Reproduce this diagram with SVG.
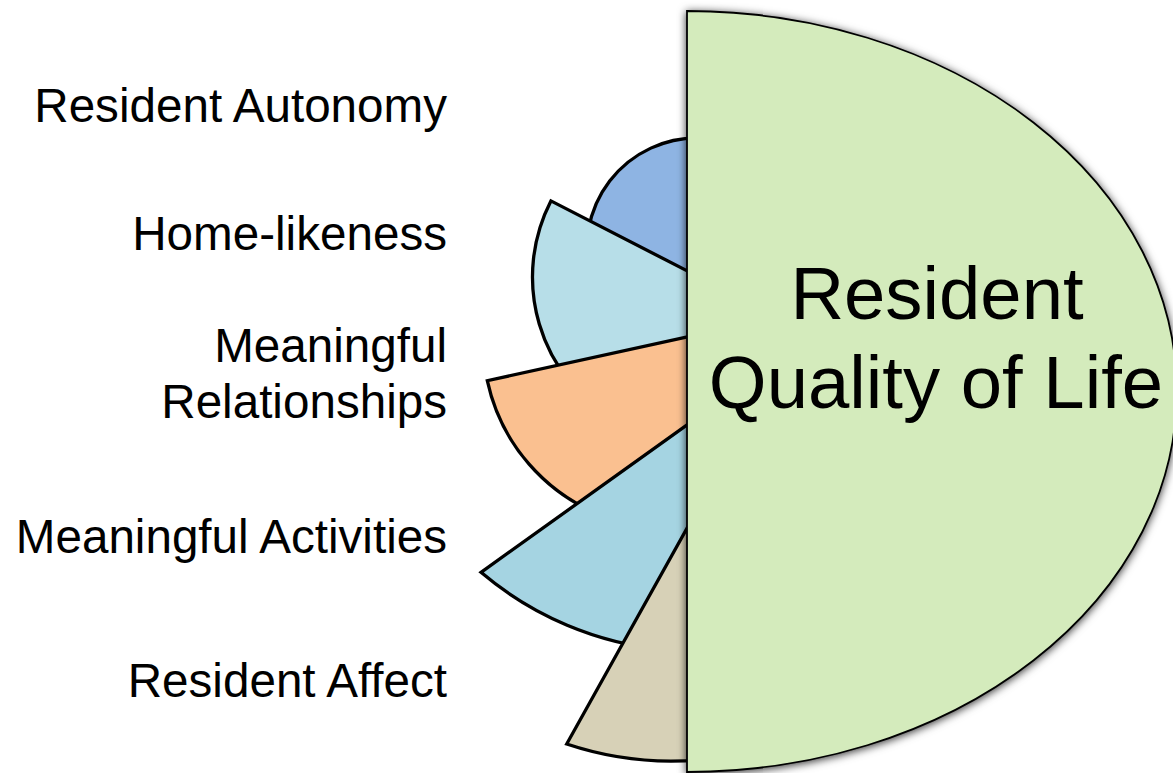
<svg xmlns="http://www.w3.org/2000/svg" width="1173" height="773" viewBox="0 0 1173 773">
  <style>
    .petal { stroke: #000; stroke-width: 3.3; stroke-linejoin: miter; }
    .lbl { font-family: "Liberation Sans", Arial, sans-serif; font-size: 47.6px; fill: #000; text-anchor: end; }
    .big { font-family: "Liberation Sans", Arial, sans-serif; font-size: 74.3px; fill: #000; text-anchor: middle; }
  </style>
  <defs>
    <filter id="sh" x="-10%" y="-10%" width="125%" height="125%">
      <feDropShadow dx="0" dy="1.5" stdDeviation="4.5" flood-color="#000" flood-opacity="0.8"/>
    </filter>
  </defs>
  <rect width="1173" height="773" fill="#fff"/>

  <g id="resident-autonomy">
    <path class="petal" fill="#8EB4E3" d="M 712,138 L 697,138 A 110 110 0 0 0 590.7,276.5 L 700,300 Z"/>
    <text class="lbl" x="447" y="121.7">Resident Autonomy</text>
  </g>

  <g id="home-likeness">
    <path class="petal" fill="#B7DEE8" d="M 710.6,282.9 L 550.9,200.9 A 166.5 166.5 0 0 0 615.75,421.2 L 700,360 Z"/>
    <text class="lbl" x="447" y="250">Home-likeness</text>
  </g>

  <g id="meaningful-relationships">
    <path class="petal" fill="#FAC090" d="M 700,334.2 L 487.3,380.7 A 187 187 0 0 0 606,517 L 700,470 Z"/>
    <text class="lbl" x="447" y="361.7">Meaningful</text>
    <text class="lbl" x="447" y="418.3">Relationships</text>
  </g>

  <g id="meaningful-activities">
    <path class="petal" fill="#A5D4E2" d="M 700,415.7 L 481,572.3 A 333 333 0 0 0 665.2,649.8 L 700,600 Z"/>
    <text class="lbl" x="447" y="553.3">Meaningful Activities</text>
  </g>

  <g id="resident-affect">
    <path class="petal" fill="#D7D1B7" d="M 700,504.9 L 566.7,744 A 330 330 0 0 0 700,759.8 L 720,759.8 L 720,504.9 Z"/>
    <text class="lbl" x="447" y="696.7">Resident Affect</text>
  </g>

  <g id="resident-quality-of-life">
    <path fill="#D4EBBC" stroke="#000" stroke-width="1.8" filter="url(#sh)" d="M 687,11 A 490 380.5 0 0 1 687,772 Z"/>
    <text class="big" x="937" y="319.3">Resident</text>
    <text class="big" x="936" y="408.3">Quality of Life</text>
  </g>
</svg>
